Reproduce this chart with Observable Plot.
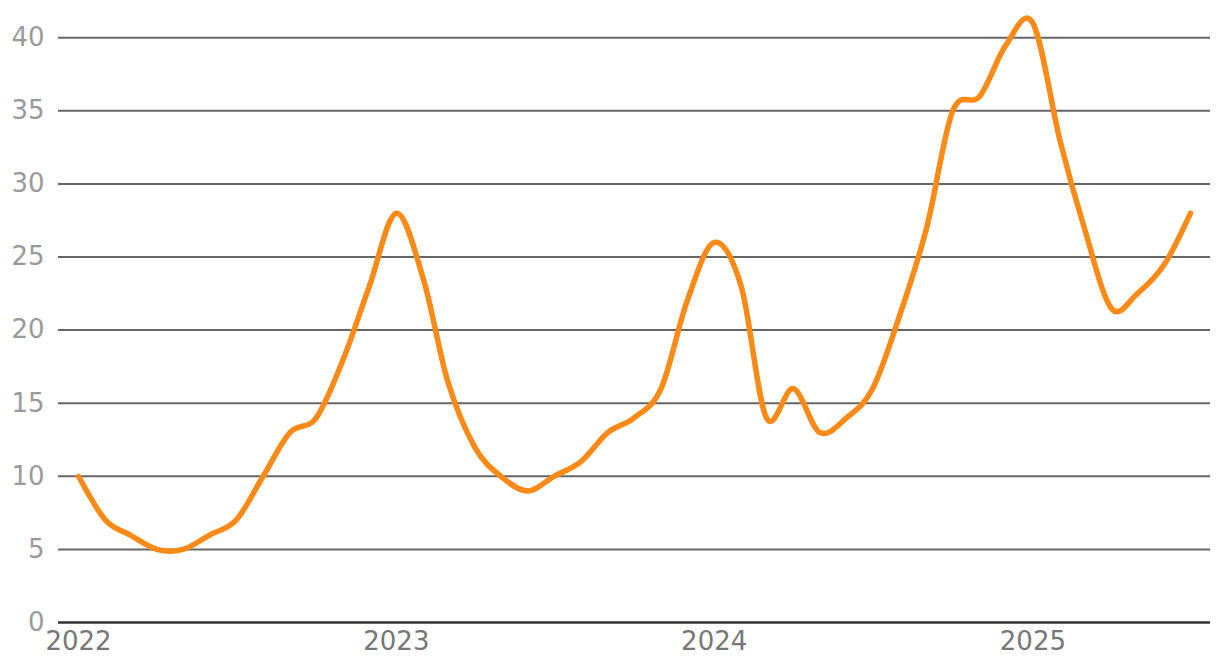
<!DOCTYPE html>
<html>
<head>
<meta charset="utf-8">
<script src="https://cdn.jsdelivr.net/npm/d3@7"></script>
<script src="https://cdn.jsdelivr.net/npm/@observablehq/plot@0.6"></script>
<style>
  html, body { margin: 0; padding: 0; background: #fff; }
  #chart svg { display: block; }
</style>
</head>
<body>
<div id="chart"></div>
<script>
const months = [
  "2022-01","2022-02","2022-03","2022-04","2022-05","2022-06","2022-07","2022-08","2022-09","2022-10","2022-11","2022-12",
  "2023-01","2023-02","2023-03","2023-04","2023-05","2023-06","2023-07","2023-08","2023-09","2023-10","2023-11","2023-12",
  "2024-01","2024-02","2024-03","2024-04","2024-05","2024-06","2024-07","2024-08","2024-09","2024-10","2024-11","2024-12",
  "2025-01","2025-02","2025-03","2025-04","2025-05","2025-06","2025-07"
];
const values = [
  10, 7, 6, 5, 5, 6, 7, 10, 13, 14, 18, 23,
  28, 23.5, 16.5, 12, 10, 9, 10, 11, 13, 14, 16, 22,
  26, 23, 14, 16, 13, 14, 16, 21, 27, 35, 36, 39.5,
  41, 33, 27, 21.5, 22.5, 24.5, 28
];
const yTicks = [0, 5, 10, 15, 20, 25, 30, 35, 40];
const xTickLabels = ["2022", "2023", "2024", "2025"];

const parseMonth = d3.utcParse("%Y-%m");
const data = months.map((m, i) => ({date: parseMonth(m), value: values[i]}));
const xTicks = xTickLabels.map(y => d3.utcParse("%Y")(y));

const chart = Plot.plot({
  width: 1220,
  height: 670,
  marginLeft: 58,
  marginRight: 10,
  marginTop: 8,
  marginBottom: 48,
  style: {fontFamily: "'DejaVu Sans', sans-serif", background: "#fff"},
  x: {type: "utc", insetLeft: 20, insetRight: 20, label: null},
  y: {domain: [0, 42], label: null},
  marks: [
    Plot.ruleY(yTicks.filter(d => d !== 0), {stroke: "#666", strokeWidth: 2}),
    Plot.ruleY([0], {stroke: "#333", strokeWidth: 2.5}),
    Plot.axisY({ticks: yTicks, tickSize: 0, tickPadding: 14, fontSize: 26, fill: "#9a9a9a", label: null}),
    Plot.axisX({ticks: xTicks, tickFormat: d3.utcFormat("%Y"), tickSize: 0, tickPadding: 9, fontSize: 26, fill: "#777", label: null}),
    Plot.line(data, {x: "date", y: "value", stroke: "#fd8a17", strokeWidth: 5.5, curve: "cardinal", strokeLinecap: "round", strokeLinejoin: "round"})
  ]
});
document.getElementById("chart").appendChild(chart);
</script>
</body>
</html>
